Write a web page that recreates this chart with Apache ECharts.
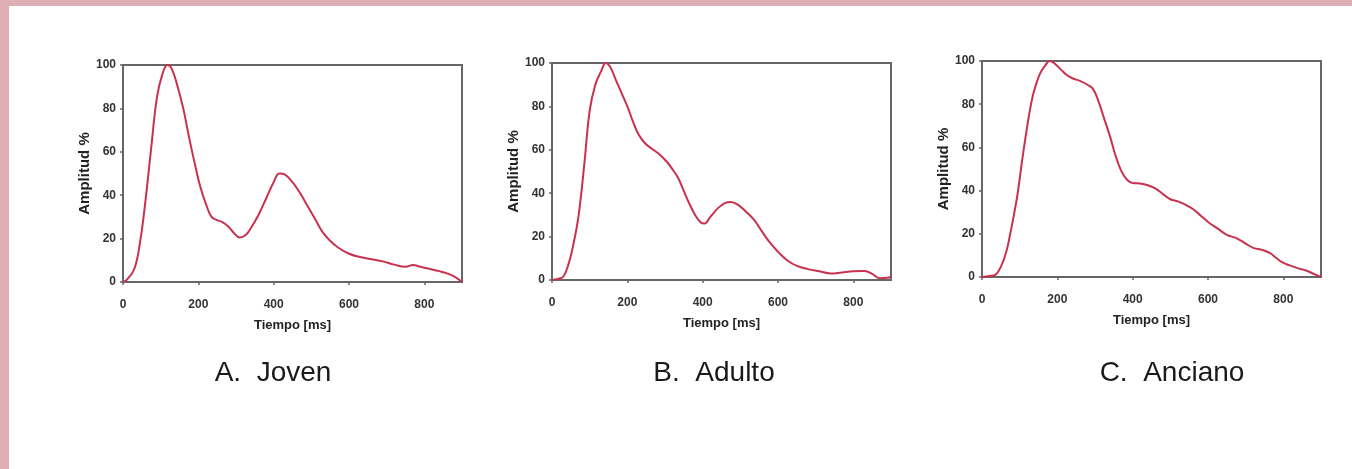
<!DOCTYPE html>
<html>
<head>
<meta charset="utf-8">
<script src="https://cdn.jsdelivr.net/npm/echarts@6/dist/echarts.min.js"></script>
<style>
  html, body { margin: 0; padding: 0; background: #e0aeb5; }
  #chart { width: 1352px; height: 469px; }
</style>
</head>
<body>
<div id="chart"></div>
<script>
// ---- Data ----
const panelTitles = ['A.  Joven', 'B.  Adulto', 'C.  Anciano'];
const xTicks = [0, 200, 400, 600, 800];
const yTicks = [0, 20, 40, 60, 80, 100];

const timeA = [0,10,30,45,60,75,90,105,118,130,145,160,175,190,205,220,235,250,265,280,295,310,325,340,360,380,400,415,430,450,470,490,510,530,550,570,600,630,660,690,720,750,770,790,810,840,860,880,900];
const ampA  = [0,1,6,18,38,62,85,96,100,98,90,80,67,55,44,36,30,28.5,27.5,25.5,22.5,20.5,21.5,25,31,38.5,46,50,49.5,46,41,35,29,23,19,16,13,11.5,10.5,9.5,8,7,7.8,7,6.2,5,4,2.5,0];

const timeB = [0,15,30,45,55,70,85,100,115,130,143,155,170,185,200,215,230,247,265,285,305,320,335,350,365,380,395,405,420,440,460,475,495,515,535,555,575,600,625,650,680,710,740,770,800,830,850,870,890,900];
const ampB  = [0,0.5,1.5,8,15,29,52,78,90,96,100,98,92,86,80,73,67,63,60.5,58,54.5,51,47,41,35,30,26.5,26,29,33,35.5,36,34.5,31.5,28,23,18,13,9,6.5,5,4,3,3.5,4,4.2,2.8,0.8,1,1.5];

const timeC = [0,20,35,52,65,75,85,95,105,115,125,135,145,155,168,180,195,210,225,240,260,280,295,310,325,340,355,370,385,400,420,440,460,480,500,520,540,560,580,600,625,650,675,700,720,745,765,780,795,815,840,860,880,900];
const ampC  = [0,0.5,1,5.5,12,20,29,39,52,64,75,84,90,94.5,98,100,98.5,96,93.5,92,90.8,89,87,81,73,65,56,49,45,43.5,43.3,42.5,41,38.5,36,35,33.5,31.5,28.5,25.5,22.5,19.5,18,15.5,13.5,12.5,11,9,7,5.5,4,3,1.5,0];

const xName = 'Tiempo [ms]';
const yName = 'Amplitud %';

// ---- Layout ----
const grids = [
  { left: 123, top: 65, width: 339, height: 217 },
  { left: 552, top: 63, width: 339, height: 217 },
  { left: 982, top: 61, width: 339, height: 216 }
];
const titleX = [273, 714, 1172];
const frameColor = '#666666';
const lineColor = '#c8314f';
const fontFam = '"Liberation Sans", Arial, sans-serif';

const series = [[timeA, ampA], [timeB, ampB], [timeC, ampC]];

const option = {
  backgroundColor: 'transparent',
  animation: false,
  graphic: [
    { type: 'rect', z: -10, shape: { x: 9, y: 6, width: 1343, height: 463 }, style: { fill: '#ffffff' } }
  ].concat(panelTitles.map((t, i) => ({
    type: 'text', x: titleX[i], y: 373,
    style: { text: t, fill: '#1a1a1a', font: '28px ' + fontFam, textAlign: 'center', textVerticalAlign: 'middle' }
  }))),
  grid: grids.map(g => Object.assign({ show: true, borderColor: frameColor, borderWidth: 2, backgroundColor: '#ffffff' }, g)),
  xAxis: grids.map((g, i) => ({
    type: 'value', gridIndex: i, min: 0, max: 900, interval: 200,
    name: xName, nameLocation: 'middle', nameGap: 37,
    nameTextStyle: { fontFamily: 'Liberation Sans', fontWeight: 'bold', fontSize: 13, color: '#222' },
    axisLine: { show: true, lineStyle: { color: frameColor, width: 2 } },
    axisTick: { show: true, length: 3, lineStyle: { color: frameColor, width: 1.5 } },
    axisLabel: { fontFamily: 'Liberation Sans', fontSize: 12, fontWeight: 'bold', color: '#333', margin: 17, showMaxLabel: false,
      formatter: v => (xTicks.indexOf(v) >= 0 ? String(v) : '') },
    splitLine: { show: false }
  })),
  yAxis: grids.map((g, i) => ({
    type: 'value', gridIndex: i, min: 0, max: 100, interval: 20,
    name: yName, nameLocation: 'middle', nameGap: 24,
    nameTextStyle: { fontFamily: 'Liberation Sans', fontWeight: 'bold', fontSize: 15, color: '#222' },
    axisLine: { show: true, lineStyle: { color: frameColor, width: 2 } },
    axisTick: { show: true, length: 3, lineStyle: { color: frameColor, width: 1.5 } },
    axisLabel: { fontFamily: 'Liberation Sans', fontSize: 12, fontWeight: 'bold', color: '#333', margin: 7,
      formatter: v => (yTicks.indexOf(v) >= 0 ? String(v) : '') },
    splitLine: { show: false }
  })),
  series: series.map((s, i) => ({
    type: 'line', xAxisIndex: i, yAxisIndex: i,
    data: s[0].map((t, k) => [t, s[1][k]]),
    smooth: 0.4, showSymbol: false, symbol: 'none',
    lineStyle: { color: lineColor, width: 2 }
  }))
};

const chart = echarts.init(document.getElementById('chart'), null, { renderer: 'canvas' });
chart.setOption(option);
</script>
</body>
</html>
